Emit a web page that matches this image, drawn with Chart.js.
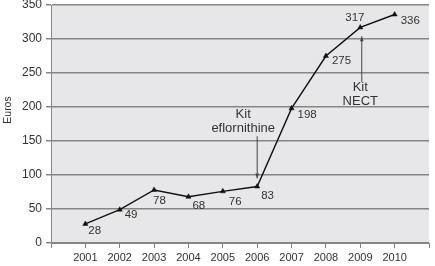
<!DOCTYPE html>
<html>
<head>
<meta charset="utf-8">
<script src="https://cdn.jsdelivr.net/npm/chart.js@4.4.0/dist/chart.umd.min.js"></script>
<style>
  html, body { margin: 0; padding: 0; background: #fff; }
</style>
</head>
<body>
<canvas id="c" width="435" height="266"></canvas>
<script>
// ---- data ----
const years = [2001, 2002, 2003, 2004, 2005, 2006, 2007, 2008, 2009, 2010];
const euros = [28, 49, 78, 68, 76, 83, 198, 275, 317, 336];
const yMax = 350, yStep = 50;

// value label placement (px from the point: left edge x, middle y)
const labelOffsets = [[3, 7], [5, 5], [-1, 11], [4, 9], [6, 11], [4, 9], [6, 6], [6, 5], [-15, -10], [6, 6]];

// annotations: arrow from "tail" value to "tip" value at a given year
const notes = [
  { year: 2006, lines: ["Kit", "eflornithine"], tail: 157, tip: 95, dx: 0, textDx: -14, textY: [-22, -8] },
  { year: 2009, lines: ["Kit", "NECT"], tail: 237, tip: 304, dx: 1.5, textDx: -1.5, textY: [6, 20] }
];

const FONT = "'Liberation Sans', Arial, sans-serif";
const TEXT = "#333";
const GRID = "#858585";

const extras = {
  id: "extras",
  beforeDraw(chart) {
    const { ctx, chartArea: a } = chart;
    ctx.save();
    ctx.fillStyle = "#e7e7e9";
    ctx.fillRect(a.left, a.top, a.right - a.left, a.bottom - a.top);
    ctx.restore();
  },
  afterDatasetsDraw(chart) {
    const { ctx } = chart;
    const xs = chart.scales.x, ys = chart.scales.y;
    ctx.save();

    // value labels
    ctx.fillStyle = TEXT;
    ctx.font = `11.5px ${FONT}`;
    ctx.textAlign = "left";
    ctx.textBaseline = "middle";
    years.forEach((yr, i) => {
      const px = xs.getPixelForValue(yr), py = ys.getPixelForValue(euros[i]);
      const [dx, dy] = labelOffsets[i];
      ctx.fillText(String(euros[i]), px + dx, py + dy);
    });

    // annotations with arrows
    notes.forEach(n => {
      const x = xs.getPixelForValue(n.year) + n.dx;
      const yTail = ys.getPixelForValue(n.tail), yTip = ys.getPixelForValue(n.tip);
      ctx.strokeStyle = "#444";
      ctx.fillStyle = "#444";
      ctx.lineWidth = 1;
      ctx.beginPath();
      ctx.moveTo(x, yTail);
      ctx.lineTo(x, yTip);
      ctx.stroke();
      const dir = yTip > yTail ? 1 : -1;
      ctx.beginPath();
      ctx.moveTo(x, yTip);
      ctx.lineTo(x - 1.8, yTip - dir * 5);
      ctx.lineTo(x + 1.8, yTip - dir * 5);
      ctx.closePath();
      ctx.fill();

      ctx.fillStyle = TEXT;
      ctx.font = `13px ${FONT}`;
      ctx.textAlign = "center";
      n.lines.forEach((t, k) => ctx.fillText(t, x + n.textDx, yTail + n.textY[k]));
    });

    // y axis title
    ctx.translate(8, 110);
    ctx.rotate(-Math.PI / 2);
    ctx.font = `10.5px ${FONT}`;
    ctx.textAlign = "center";
    ctx.fillStyle = TEXT;
    ctx.fillText("Euros", 0, 0);
    ctx.restore();
  }
};

new Chart(document.getElementById("c"), {
  type: "line",
  data: {
    datasets: [{
      data: years.map((yr, i) => ({ x: yr, y: euros[i] })),
      borderColor: "#111",
      borderWidth: 1.4,
      tension: 0,
      pointStyle: "triangle",
      pointRadius: 3,
      pointBackgroundColor: "#111",
      pointBorderColor: "#111",
      pointBorderWidth: 0.5
    }]
  },
  options: {
    responsive: false,
    animation: false,
    layout: { padding: { left: 0, right: 6, top: 5, bottom: 0 } },
    plugins: { legend: { display: false }, tooltip: { enabled: false } },
    scales: {
      x: {
        type: "linear",
        min: years[0] - 1,
        max: years[years.length - 1] + 1,
        afterBuildTicks: s => {
          s.ticks = [];
          for (let v = years[0] - 1; v <= years[years.length - 1] + 1; v++) s.ticks.push({ value: v });
        },
        afterFit: s => { s.height = 23; s.paddingLeft = 0; s.paddingRight = 0; },
        grid: { drawOnChartArea: false, drawTicks: true, tickLength: 5, color: GRID, lineWidth: 1 },
        border: { display: true, color: GRID, width: 1 },
        ticks: {
          color: TEXT,
          font: { size: 11, family: FONT },
          padding: 3,
          maxRotation: 0,
          autoSkip: false,
          callback: v => years.includes(v) ? String(v) : ""
        }
      },
      y: {
        min: 0,
        max: yMax,
        afterFit: s => { s.width = 51; s.paddingTop = 0; s.paddingBottom = 0; },
        grid: { color: GRID, lineWidth: 1.5, tickLength: 5, tickColor: GRID },
        border: { display: true, color: GRID, width: 1 },
        ticks: {
          stepSize: yStep,
          color: TEXT,
          font: { size: 12, family: FONT },
          padding: 4
        }
      }
    }
  },
  plugins: [extras]
});
</script>
</body>
</html>
